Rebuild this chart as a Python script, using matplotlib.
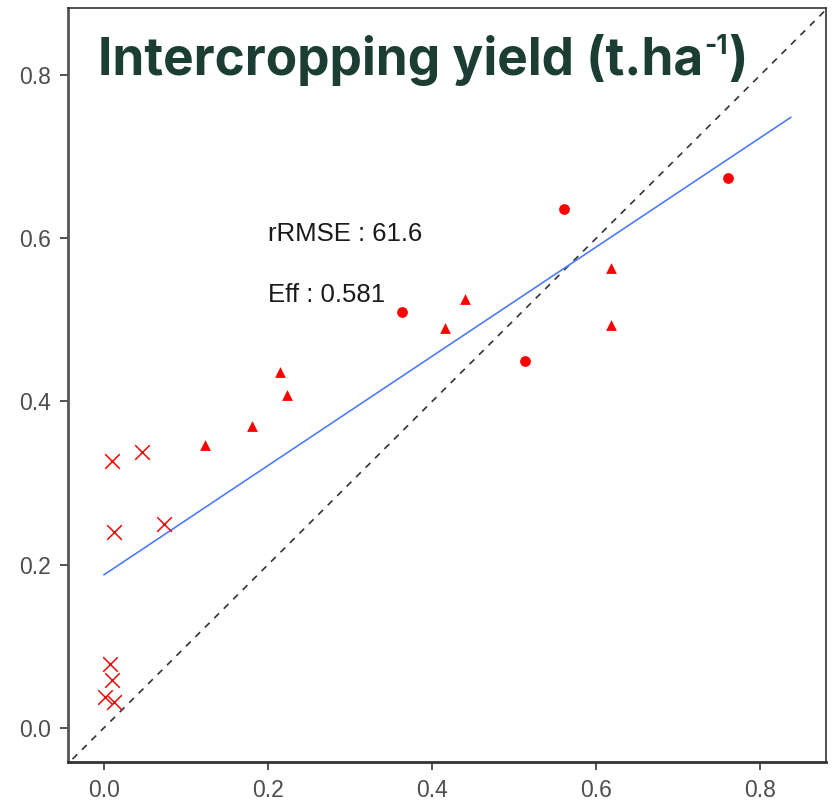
import matplotlib
matplotlib.use("Agg")
import matplotlib.pyplot as plt

# Data
cross_x = [0.007, 0.010, 0.001, 0.012, 0.010, 0.012, 0.046, 0.073]
cross_y = [0.078, 0.059, 0.038, 0.032, 0.327, 0.240, 0.338, 0.250]
tri_x = [0.123, 0.180, 0.215, 0.223, 0.415, 0.440, 0.618, 0.618]
tri_y = [0.347, 0.370, 0.436, 0.408, 0.490, 0.525, 0.564, 0.494]
circ_x = [0.363, 0.513, 0.561, 0.761]
circ_y = [0.509, 0.449, 0.636, 0.674]
fit_x = [0.0, 0.837]
fit_y = [0.1875, 0.748]
one_x = [-0.05, 0.9]
one_y = [-0.05, 0.9]
ticks = [0.0, 0.2, 0.4, 0.6, 0.8]
tick_labels = ["0.0", "0.2", "0.4", "0.6", "0.8"]
title_parts = ["Intercropping yield (t.ha", "-1", ")"]
stats = ["rRMSE : 61.6", "Eff : 0.581"]

fig = plt.figure(figsize=(8.33, 8.06), dpi=100)
ax = fig.add_axes([0.0816, 0.0546, 0.91, 0.9354])
ax.set_xlim(-0.044, 0.880)
ax.set_ylim(-0.042, 0.882)

ax.plot(one_x, one_y, ls=(0, (4, 4)), color="#333333", lw=1.2, zorder=1)
ax.plot(fit_x, fit_y, color="#4D7CF5", lw=1.2, zorder=2)

ax.scatter(cross_x, cross_y, marker="x", s=110, color="red", linewidths=1.1, zorder=3)
ax.scatter(tri_x, tri_y, marker="^", s=60, color="red", linewidths=0, zorder=3)
ax.scatter(circ_x, circ_y, marker="o", s=60, color="red", linewidths=0, zorder=3)

ax.text(0.2, 0.605, stats[0], fontsize=18.5, family="Liberation Sans", color="#1a1a1a", va="center", ha="left")
ax.text(0.2, 0.53, stats[1], fontsize=18.5, family="Liberation Sans", color="#1a1a1a", va="center", ha="left")

ax.set_xticks(ticks)
ax.set_xticklabels(tick_labels)
ax.set_yticks(ticks)
ax.set_yticklabels(tick_labels)
ax.tick_params(labelsize=16.5, colors="#333333", labelcolor="#4D4D4D", length=5.5, width=1.2, pad=7)
for lab in ax.get_xticklabels() + ax.get_yticklabels():
    lab.set_family("Liberation Sans")
for s in ax.spines.values():
    s.set_color("#333333")
    s.set_linewidth(1.2)
ax.spines["left"].set_linewidth(2.0)
ax.spines["left"].set_color("#555555")
ax.spines["bottom"].set_linewidth(2.0)

tkw = dict(fontweight="bold", family="Inter", color="#1B3D33", ha="left", va="baseline")
t1 = fig.text(98 / 833, 1 - 75 / 806, title_parts[0], fontsize=37, **tkw)
fig.canvas.draw()
r = fig.canvas.get_renderer()
bb = t1.get_window_extent(r)
t2 = fig.text(bb.x1 / 833 + 0.001, 1 - 54 / 806, title_parts[1], fontsize=19, **tkw)
fig.canvas.draw()
bb2 = t2.get_window_extent(r)
fig.text(bb2.x1 / 833 + 0.001, 1 - 75 / 806, title_parts[2], fontsize=37, **tkw)

fig.savefig("out.png", dpi=100)
